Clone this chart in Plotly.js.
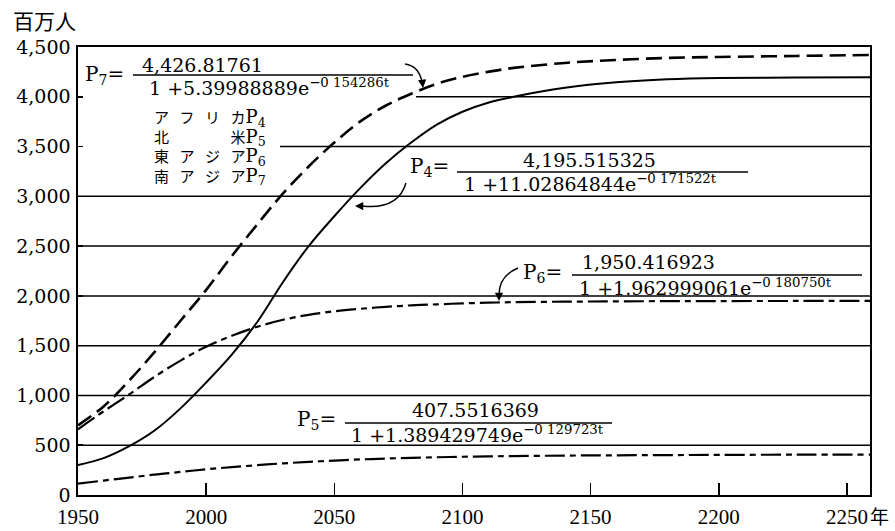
<!DOCTYPE html>
<html>
<head>
<meta charset="utf-8">
<script src="https://cdn.plot.ly/plotly-3.0.1.min.js"></script>
<style>html,body{margin:0;padding:0;background:#fff;}#chart{width:895px;height:531px;}</style>
</head>
<body>
<div id="chart"></div>
<script>
// ---- data ----
const years = [1950,1960,1970,1980,1990,2000,2010,2020,2030,2040,2050,2060,2070,2080,2090,2100,2110,2120,2140,2160,2180,2200,2230,2259];
const africaP4 = [300,370,490,650,870,1130,1410,1740,2140,2500,2800,3080,3330,3540,3720,3850,3940,4000,4090,4145,4175,4188,4193,4195];
const northAmericaP5 = [115,145,175,205,232,258,280,300,318,333,346,357,366,373,379,384,388,391,396,399,401,403,405,406];
const eastAsiaP6 = [660,840,1010,1190,1350,1490,1600,1690,1760,1810,1845,1870,1890,1905,1915,1925,1932,1937,1942,1945,1947,1948,1949,1950];
const southAsiaP7 = [700,890,1150,1440,1750,2060,2400,2720,3030,3300,3540,3750,3910,4030,4130,4200,4250,4290,4340,4370,4390,4400,4410,4420];
const xTickVals = [1950,2000,2050,2100,2150,2200,2250];
const xTickText = ['1950','2000','2050','2100','2150','2200','2250'];
const yTickVals = [0,500,1000,1500,2000,2500,3000,3500,4000,4500];
const yTickText = ['0','500','1,000','1,500','2,000','2,500','3,000','3,500','4,000','4,500'];
const fullGrid = [500,1000,1500,2000,2500,3000];
const partialGrid = [3500,4000];
const G = '\u2002\u2009';
const legendLines = ['ア'+G+'フ'+G+'リ'+G+'カ', '北'+G+'\u3000'+G+'\u3000'+G+'米', '東'+G+'ア'+G+'ジ'+G+'ア', '南'+G+'ア'+G+'ジ'+G+'ア'];
const legendP = ['4','5','6','7'];

// ---- layout helpers (pixel -> paper) ----
const L = 78, R = 870, T = 47, B = 495;
const X = px => (px - L) / (R - L);
const Y = py => (B - py) / (B - T);
const SERIF = 'DejaVu Serif';
const CJK = 'Noto Sans CJK JP';

function txt(text, px, py, size, family, xanchor) {
  return {text: text, x: X(px), y: Y(py), xref: 'paper', yref: 'paper',
    xanchor: xanchor || 'left', yanchor: 'middle', showarrow: false,
    font: {family: family || SERIF, size: size || 19, color: '#000'}};
}
function head(tipx, tipy, ax, ay) {
  return {text: '', x: X(tipx), y: Y(tipy), xref: 'paper', yref: 'paper',
    showarrow: true, ax: ax, ay: ay, arrowhead: 2, arrowsize: 1.1, arrowwidth: 1.5,
    arrowcolor: '#000', standoff: 0};
}
function bar(px0, px1, py) {
  return {type: 'line', xref: 'paper', yref: 'paper', x0: X(px0), x1: X(px1), y0: Y(py), y1: Y(py),
    line: {color: '#000', width: 1.3}};
}
function curve(p0, c, p1) {
  return {type: 'path', xref: 'paper', yref: 'paper',
    path: `M ${X(p0[0])},${Y(p0[1])} Q ${X(c[0])},${Y(c[1])} ${X(p1[0])},${Y(p1[1])}`,
    line: {color: '#000', width: 1.4}};
}

const traces = [
  {x: years, y: africaP4, mode: 'lines', line: {color: '#000', width: 2, shape: 'spline'}, name: 'P4'},
  {x: years, y: northAmericaP5, mode: 'lines', line: {color: '#000', width: 2.2, dash: '20px,5px,6px,5px', shape: 'spline'}, name: 'P5'},
  {x: years, y: eastAsiaP6, mode: 'lines', line: {color: '#000', width: 2.2, dash: '20px,5px,6px,5px', shape: 'spline'}, name: 'P6'},
  {x: years, y: southAsiaP7, mode: 'lines', line: {color: '#000', width: 2.6, dash: '16px,7px', shape: 'spline'}, name: 'P7'}
];

const shapes = [];
fullGrid.forEach(v => shapes.push({type: 'line', xref: 'paper', yref: 'y', x0: 0, x1: 1, y0: v, y1: v,
  layer: 'below', line: {color: '#000', width: 1.5}}));
const partialStart = [X(280), X(416)];
partialGrid.forEach((v, i) => shapes.push({type: 'line', xref: 'paper', yref: 'y', x0: partialStart[i], x1: 1, y0: v, y1: v,
  layer: 'below', line: {color: '#000', width: 1.5}}));
// fraction bars
shapes.push(bar(133, 413, 75));
shapes.push(bar(457, 748, 172));
shapes.push(bar(572, 862, 275));
shapes.push(bar(345, 612, 423));
// curved arrows
shapes.push(curve([405, 64], [419, 66], [422, 82]));
shapes.push(curve([406, 183], [398, 210], [362, 206]));
shapes.push(curve([518, 268], [499, 276], [499, 295]));

const annotations = [
  txt('百万人', 44, 20, 21, CJK, 'center'),
  txt('年', 879, 515, 19, CJK, 'center'),
  // P7
  txt('P<sub>7</sub>=', 83, 75, 20),
  txt('4,426.81761', 140, 65, 19),
  txt('1 +5.39988889e<sup>−0 154286t</sup>', 147, 87, 19),
  // P4
  txt('P<sub>4</sub>=', 408, 167, 20),
  txt('4,195.515325', 521, 160, 19),
  txt('1 +11.02864844e<sup>−0 171522t</sup>', 462, 183, 19),
  // P6
  txt('P<sub>6</sub>=', 521, 273, 20),
  txt('1,950.416923', 580, 262, 19),
  txt('1 +1.962999061e<sup>−0 180750t</sup>', 577, 287, 19),
  // P5
  txt('P<sub>5</sub>=', 295, 420, 20),
  txt('407.5516369', 410, 410, 19),
  txt('1 +1.389429749e<sup>−0 129723t</sup>', 349, 434, 19),
  // arrow heads
  head(423, 88, -1, -9),
  head(355, 206, 9, 0),
  head(499, 301, 0, -9)
];
const legendText = legendLines.map((s, i) =>
  s + `<span style="font-family:${SERIF};font-size:18px">P<sub>${legendP[i]}</sub></span>`).join('<br>');
const leg = txt(legendText, 152, 147, 15, CJK);
leg.align = 'left';
annotations.push(leg);

const layout = {
  width: 895, height: 531,
  margin: {l: L, r: 895 - R, t: T, b: 531 - B, pad: 0},
  paper_bgcolor: '#fff', plot_bgcolor: '#fff',
  showlegend: false,
  xaxis: {range: [1950, 2259], tickvals: xTickVals, ticktext: xTickText, ticks: 'inside', ticklen: 12,
    tickwidth: 1.5, tickcolor: '#000', showgrid: false, zeroline: false, showline: true, mirror: true,
    linecolor: '#000', linewidth: 1.6, ticklabelstandoff: 2,
    tickfont: {family: 'Liberation Serif', size: 21, color: '#000'}},
  yaxis: {range: [0, 4500], tickvals: yTickVals, ticktext: yTickText, ticks: 'inside', ticklen: 5,
    tickwidth: 1.5, tickcolor: '#000', showgrid: false, zeroline: false, showline: true, mirror: true,
    linecolor: '#000', linewidth: 1.6, ticklabelstandoff: 2,
    tickfont: {family: SERIF, size: 19, color: '#000'}},
  shapes: shapes,
  annotations: annotations
};

Plotly.newPlot('chart', traces, layout, {displayModeBar: false, staticPlot: true});
</script>
</body>
</html>
